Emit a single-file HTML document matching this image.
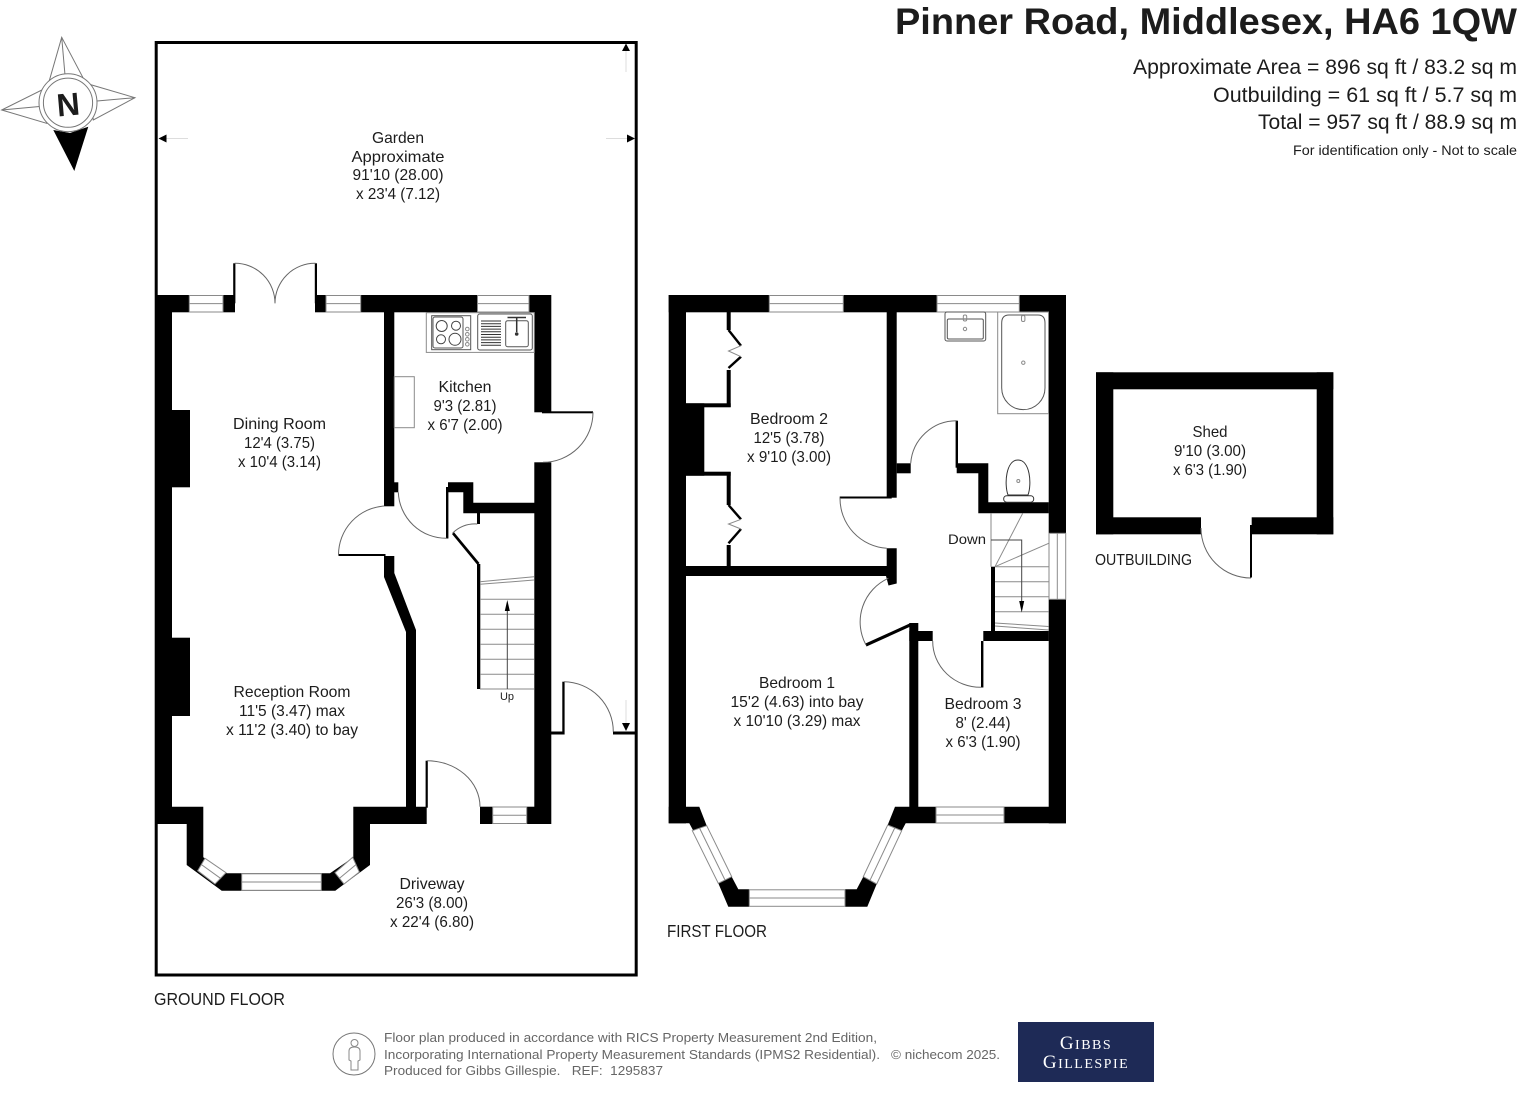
<!DOCTYPE html>
<html><head><meta charset="utf-8"><style>
html,body{margin:0;padding:0;background:#fff}
svg{display:block}
text{font-family:"Liberation Sans",sans-serif;fill:#1c1c1c}
.r{font-size:16px;text-anchor:middle}
.w{fill:#fff;stroke:#8a8a8a;stroke-width:1}
.g{fill:none;stroke:#8a8a8a;stroke-width:1}
.d{fill:none;stroke:#666;stroke-width:1}
.f{font-size:13px;fill:#666}
.l{font-family:"Liberation Serif",serif;fill:#fff}
</style></head><body>
<svg width="1520" height="1096" viewBox="0 0 1520 1096" xmlns="http://www.w3.org/2000/svg">
<rect width="1520" height="1096" fill="#fff"/>

<!-- Titles -->
<text x="1517" y="34" text-anchor="end" font-size="37" font-weight="bold" fill="#000" textLength="622" lengthAdjust="spacingAndGlyphs">Pinner Road, Middlesex, HA6 1QW</text>
<text x="1517" y="74" text-anchor="end" font-size="21" textLength="384" lengthAdjust="spacingAndGlyphs">Approximate Area = 896 sq ft / 83.2 sq m</text>
<text x="1517" y="102" text-anchor="end" font-size="21" textLength="304" lengthAdjust="spacingAndGlyphs">Outbuilding = 61 sq ft / 5.7 sq m</text>
<text x="1517" y="129" text-anchor="end" font-size="21" textLength="259" lengthAdjust="spacingAndGlyphs">Total = 957 sq ft / 88.9 sq m</text>
<text x="1517" y="155" text-anchor="end" font-size="14" textLength="224" lengthAdjust="spacingAndGlyphs">For identification only - Not to scale</text>

<!-- Compass -->
<g fill="#fff" stroke="#777" stroke-width="1">
<polygon points="61.7,37.3 83.3,78.3 49,81.7"/>
<polygon points="135,97.7 93.3,120 88.3,84"/>
<polygon points="1.7,110 43.3,89.3 46.7,123.3"/>
<line x1="61.7" y1="37.3" x2="65" y2="75"/>
<line x1="135" y1="97.7" x2="97" y2="101"/>
<line x1="1.7" y1="110" x2="39.5" y2="106.5"/>
</g>
<polygon points="53.3,130 74.3,171 88.3,126.7 70,133" fill="#000"/>
<circle cx="68" cy="102.7" r="29" fill="#fff" stroke="#777"/>
<circle cx="68" cy="102.7" r="24.6" fill="#fff" stroke="#777"/>
<text x="68" y="115.5" text-anchor="middle" font-size="32" font-weight="bold" fill="#000" transform="rotate(-5 68 103)">N</text>

<!-- GROUND FLOOR -->
<rect x="156.2" y="42.5" width="480" height="932.5" fill="none" stroke="#000" stroke-width="3"/>
<g fill="#000">
<rect x="155" y="295" width="17" height="529"/>
<rect x="155" y="295" width="80" height="17.3"/>
<rect x="315" y="295" width="236" height="17.3"/>
<rect x="172" y="410" width="18" height="77.3"/>
<rect x="172" y="637.7" width="18" height="78.3"/>
<rect x="534.3" y="295" width="17" height="117.3"/>
<rect x="534.3" y="462.3" width="17" height="361.7"/>
<rect x="384" y="312" width="10.3" height="194.3"/>
<rect x="394" y="482.3" width="4.3" height="10"/>
<polygon points="384,556 394.3,556 394.3,573 416,630 416,807 406,807 406,632 384,577"/>
<polygon points="172,806.7 203.3,806.7 203.3,857.3 226.7,873.3 330,873.3 353.3,857.3 353.3,806.7 426.7,806.7 426.7,824 370,824 370,865 335.3,890.7 221.7,890.7 186.7,865 186.7,824 155,824 155,806.7"/>
<rect x="480" y="806.7" width="71" height="17.3"/>
<polygon points="448,482.3 473.3,482.3 473.3,502.7 534.5,502.7 534.5,513.3 463.3,513.3 463.3,492.3 448,492.3"/>
<rect x="477" y="513" width="3" height="11"/>
<rect x="477" y="564" width="3.3" height="125"/>
<rect x="446" y="487" width="2.4" height="51.5"/>
<polygon points="452,534 454,532.3 479.5,563 477.5,565"/>
<rect x="338.5" y="554" width="47" height="2"/>
<rect x="542" y="411.3" width="51" height="2"/>
<rect x="233.2" y="263.3" width="2.2" height="40"/>
<rect x="314.8" y="263.3" width="2.2" height="40"/>
<rect x="551" y="731.5" width="13.3" height="3"/>
<rect x="562.3" y="681.7" width="2.3" height="52.8"/>
<rect x="613" y="731.5" width="23" height="3"/>
<rect x="425.6" y="760.7" width="2.2" height="47"/>
</g>
<!-- ground windows -->
<g>
<rect class="w" x="189.3" y="295.5" width="33.7" height="16.5"/><line class="g" x1="189.3" y1="303.6" x2="223" y2="303.6"/>
<rect class="w" x="326" y="295.5" width="34.7" height="16.5"/><line class="g" x1="326" y1="303.6" x2="360.7" y2="303.6"/>
<rect class="w" x="477.5" y="295.5" width="51.5" height="16.5"/><line class="g" x1="477.5" y1="303.6" x2="529" y2="303.6"/>
<rect class="w" x="492.7" y="807" width="34" height="16.5"/><line class="g" x1="492.7" y1="815.3" x2="526.7" y2="815.3"/>
<rect class="w" x="241.7" y="873.8" width="79.6" height="16.5"/><line class="g" x1="241.7" y1="882" x2="321.3" y2="882"/>
<polygon class="w" points="205,858.3 226,872.7 215,884 197.7,870.7"/><line class="g" x1="201.3" y1="864.5" x2="220.5" y2="878.3"/>
<polygon class="w" points="352.7,857.3 335,872.7 344,884 359.3,872"/><line class="g" x1="356" y1="864.6" x2="339.5" y2="878.3"/>
</g>
<!-- ground door arcs -->
<g class="d">
<path d="M234.7 263.3 A40 40 0 0 1 275 303.3"/>
<path d="M315.5 263.3 A40 40 0 0 0 275 303.3"/>
<path d="M593 412.3 A50 50 0 0 1 543 462.3"/>
<path d="M384.3 506 A49 49 0 0 0 338.5 555"/>
<path d="M398.3 492.3 A48 48 0 0 0 446.7 538.3"/>
<path d="M477.3 524 A33 33 0 0 0 452.7 533"/>
<path d="M564 681.7 A50 50 0 0 1 613.3 731.7"/>
<path d="M427 760.7 A53 46 0 0 1 480 806.7"/>
</g>
<!-- stairs -->
<g class="g">
<line x1="480" y1="581.7" x2="534" y2="576.7"/>
<line x1="480" y1="584.3" x2="534" y2="580"/>
<line x1="480" y1="599.3" x2="534" y2="599.3"/>
<line x1="480" y1="614.3" x2="534" y2="614.3"/>
<line x1="480" y1="629.3" x2="534" y2="629.3"/>
<line x1="480" y1="644.3" x2="534" y2="644.3"/>
<line x1="480" y1="659.3" x2="534" y2="659.3"/>
<line x1="480" y1="674.3" x2="534" y2="674.3"/>
<line x1="480" y1="689" x2="534" y2="689"/>
<line x1="507.3" y1="689" x2="507.3" y2="606" stroke="#444"/>
</g>
<polygon points="507.3,600 504.8,611 509.8,611" fill="#000"/>
<text x="507" y="700" text-anchor="middle" font-size="11">Up</text>
<!-- kitchen fittings -->
<g class="g">
<rect x="426.3" y="312.7" width="108" height="39.7"/>
<rect x="394.3" y="376.7" width="20" height="51"/>
<rect x="431.7" y="315.7" width="39" height="34" stroke="#555"/>
<rect x="433" y="317" width="30" height="31" stroke="#555" rx="2"/>
<circle cx="441.7" cy="326" r="5.5" stroke="#444"/><circle cx="456" cy="325.7" r="4.5" stroke="#444"/>
<circle cx="441" cy="339.3" r="4.5" stroke="#444"/><circle cx="455" cy="339.3" r="6" stroke="#444"/>
<circle cx="467.3" cy="329" r="1.8"/><circle cx="467.3" cy="334.3" r="1.8"/><circle cx="467.3" cy="339.3" r="1.8"/><circle cx="467.3" cy="344.3" r="1.8"/>
<rect x="477.7" y="314" width="54.6" height="36" rx="2" stroke="#555"/>
<rect x="505.7" y="320.7" width="22.6" height="26" rx="2" stroke="#555"/>
</g>
<g stroke="#333" stroke-width="1">
<line x1="481" x2="501" y1="321" y2="321"/><line x1="481" x2="501" y1="323.7" y2="323.7"/><line x1="481" x2="501" y1="326.4" y2="326.4"/><line x1="481" x2="501" y1="329.1" y2="329.1"/><line x1="481" x2="501" y1="331.8" y2="331.8"/><line x1="481" x2="501" y1="334.5" y2="334.5"/><line x1="481" x2="501" y1="337.2" y2="337.2"/><line x1="481" x2="501" y1="339.9" y2="339.9"/><line x1="481" x2="501" y1="342.6" y2="342.6"/><line x1="481" x2="501" y1="345.3" y2="345.3"/>
<line x1="516.7" y1="317" x2="516.7" y2="332" stroke-width="1.5"/>
<line x1="507.5" y1="317.5" x2="526" y2="317.5" stroke-width="1.5"/>
<circle cx="516.7" cy="334" r="1.3" fill="#333"/>
</g>
<!-- garden dims -->
<g stroke="#ddd" stroke-width="1"><line x1="626" y1="50" x2="626" y2="72"/><line x1="166" y1="138.5" x2="188" y2="138.5"/><line x1="606" y1="138.5" x2="627" y2="138.5"/><line x1="626" y1="700" x2="626" y2="723"/></g>
<g fill="#000">
<polygon points="626,43.5 622,51 630,51"/>
<polygon points="158.5,138.5 166.5,134.5 166.5,142.5"/>
<polygon points="635,138.5 627,134.5 627,142.5"/>
<polygon points="626,731 622,723 630,723"/>
</g>
<!-- ground labels -->
<text class="r" x="398" y="143" textLength="52" lengthAdjust="spacingAndGlyphs">Garden</text>
<text class="r" x="398" y="162" textLength="93" lengthAdjust="spacingAndGlyphs">Approximate</text>
<text class="r" x="398" y="180" textLength="91" lengthAdjust="spacingAndGlyphs">91'10 (28.00)</text>
<text class="r" x="398" y="199" textLength="84" lengthAdjust="spacingAndGlyphs">x 23'4 (7.12)</text>
<text class="r" x="279.5" y="429" textLength="93" lengthAdjust="spacingAndGlyphs">Dining Room</text>
<text class="r" x="279.5" y="448" textLength="71" lengthAdjust="spacingAndGlyphs">12'4 (3.75)</text>
<text class="r" x="279.5" y="467" textLength="83" lengthAdjust="spacingAndGlyphs">x 10'4 (3.14)</text>
<text class="r" x="465" y="392" textLength="53" lengthAdjust="spacingAndGlyphs">Kitchen</text>
<text class="r" x="465" y="411" textLength="63" lengthAdjust="spacingAndGlyphs">9'3 (2.81)</text>
<text class="r" x="465" y="430" textLength="75" lengthAdjust="spacingAndGlyphs">x 6'7 (2.00)</text>
<text class="r" x="292" y="697" textLength="117" lengthAdjust="spacingAndGlyphs">Reception Room</text>
<text class="r" x="292" y="716" textLength="106" lengthAdjust="spacingAndGlyphs">11'5 (3.47) max</text>
<text class="r" x="292" y="735" textLength="132" lengthAdjust="spacingAndGlyphs">x 11'2 (3.40) to bay</text>
<text class="r" x="432" y="889" textLength="65" lengthAdjust="spacingAndGlyphs">Driveway</text>
<text class="r" x="432" y="908" textLength="72" lengthAdjust="spacingAndGlyphs">26'3 (8.00)</text>
<text class="r" x="432" y="927" textLength="84" lengthAdjust="spacingAndGlyphs">x 22'4 (6.80)</text>
<text x="154" y="1005" font-size="17.5" textLength="131" lengthAdjust="spacingAndGlyphs">GROUND FLOOR</text>

<!-- FIRST FLOOR -->
<g fill="#000">
<rect x="668.7" y="295" width="17.3" height="528.3"/>
<rect x="668.7" y="295" width="397.3" height="17.3"/>
<rect x="1048.7" y="295" width="17.3" height="238.3"/>
<rect x="1048.7" y="599.3" width="17.3" height="224"/>
<rect x="886.7" y="312" width="10" height="185.7"/>
<rect x="839.7" y="496.5" width="52" height="2"/>
<rect x="896.7" y="463.3" width="14" height="10"/>
<polygon points="886.7,548.3 896.7,548.3 896.7,576 896.7,583.5 888.5,585.5 886,576 686,576 686,566 886.7,566"/>
<rect x="686" y="403.3" width="18.3" height="72.4"/>
<rect x="686" y="403.3" width="44.7" height="4"/>
<rect x="686" y="471.7" width="44.7" height="4"/>
<rect x="726.7" y="312" width="4" height="18"/>
<rect x="726.7" y="370" width="4" height="37"/>
<rect x="726.7" y="472" width="4" height="33"/>
<rect x="726.7" y="545" width="4" height="21"/>
<rect x="955.6" y="420.7" width="2.4" height="47"/>
<polygon points="956.7,463.3 988.3,463.3 988.3,502.3 1048.8,502.3 1048.8,513.3 978.3,513.3 978.3,473.3 956.7,473.3"/>
<rect x="991" y="566.7" width="4" height="64.3"/>
<rect x="983.3" y="631" width="65.5" height="10"/>
<rect x="909.3" y="631" width="23.4" height="10"/>
<rect x="909.3" y="623" width="9" height="184"/>
<polygon points="865.5,643.5 909.5,623.5 910.5,626.5 866.5,646.5"/>
<rect x="981" y="641" width="2.4" height="46.5"/>
<polygon points="668.7,806.7 699.3,806.7 706.7,825.7 693.3,830.7 689.3,823.3 668.7,823.3"/>
<polygon points="718.3,883.3 731.7,876.7 738.3,889.3 749.3,889.3 749.3,906.7 728.3,906.7"/>
<polygon points="845,889.3 856.7,889.3 863.3,876.7 876.7,884 867.3,906.7 845,906.7"/>
<polygon points="887.7,825 895,806.7 1066,806.7 1066,823.3 905.7,823.3 901.7,830.7"/>
</g>
<g fill="none" stroke="#000" stroke-width="2.4">
<polyline points="728.5,330 741,345.7"/>
<polyline points="741,356.7 728.5,368"/>
<polyline points="728.5,505 741,519.3"/>
<polyline points="741,529 728.5,543.3"/>
</g>
<g class="g" stroke="#444">
<polyline points="741,345.7 728.5,351 741,356.7"/>
<polyline points="741,519.3 728.5,524 741,529"/>
</g>
<!-- first windows -->
<rect class="w" x="769.3" y="295.5" width="74" height="16.5"/><line class="g" x1="769.3" y1="303.6" x2="843.3" y2="303.6"/>
<rect class="w" x="937" y="295.5" width="82.3" height="16.5"/><line class="g" x1="937" y1="303.6" x2="1019.3" y2="303.6"/>
<rect class="w" x="936" y="807" width="68" height="16"/><line class="g" x1="936" y1="815" x2="1004" y2="815"/>
<rect class="w" x="749.3" y="889.8" width="95.7" height="16.5"/><line class="g" x1="749.3" y1="898" x2="845" y2="898"/>
<polygon class="w" points="692.3,830.7 706.7,825.7 731.7,876.7 718.3,883.3"/><line class="g" x1="699.5" y1="828" x2="725" y2="880"/>
<polygon class="w" points="887.7,825 901.7,830.7 876.7,884 863.3,876.7"/><line class="g" x1="894.7" y1="828" x2="870" y2="880.3"/>
<rect class="w" x="1049" y="533.3" width="16.7" height="66"/><line class="g" x1="1057.3" y1="533.3" x2="1057.3" y2="599.3"/>
<!-- first arcs -->
<g class="d">
<path d="M840 497.7 A50 50 0 0 0 886.7 548.3"/>
<path d="M956.7 420.7 A46 46 0 0 0 910.7 463.3"/>
<path d="M866 645 A48 48 0 0 1 888.3 578.3"/>
<path d="M932.7 641 A48 46 0 0 0 981 687.3"/>
</g>
<!-- first stairs -->
<g class="g">
<line x1="991" y1="513.3" x2="991" y2="566.7"/>
<line x1="995" y1="566.7" x2="1022.7" y2="513.3"/>
<line x1="995" y1="566.7" x2="1048.7" y2="543.3"/>
<line x1="995" y1="566.7" x2="1048.7" y2="566.7"/>
<line x1="995" y1="581.7" x2="1048.7" y2="581.7"/>
<line x1="995" y1="596.7" x2="1048.7" y2="596.7"/>
<line x1="995" y1="611.7" x2="1048.7" y2="611.7"/>
<line x1="995" y1="623" x2="1048.7" y2="626.5"/>
<line x1="995" y1="626" x2="1048.7" y2="630"/>
<polyline points="991,540 1021.7,540 1021.7,604" stroke="#444"/>
</g>
<polygon points="1021.7,612.5 1019.2,601 1024.2,601" fill="#000"/>
<text x="967" y="544" text-anchor="middle" font-size="14" textLength="38" lengthAdjust="spacingAndGlyphs">Down</text>
<!-- bathroom fittings -->
<g class="g">
<rect x="997.7" y="312" width="50.8" height="101.7"/>
<path d="M1009 315 H1038 Q1045 315 1045 323 V388 A21.6 21.6 0 0 1 1001.7 388 V323 Q1001.7 315 1009 315 Z" stroke="#555"/>
<circle cx="1023.3" cy="362.7" r="1.7"/>
<rect x="945" y="312" width="40.7" height="29" rx="2" stroke="#555"/>
<rect x="947.3" y="319" width="36" height="20" rx="1.5" stroke="#555"/>
<circle cx="965" cy="329" r="1.7"/>
<rect x="963.3" y="315" width="3.4" height="6" rx="1.5"/>
<rect x="1021.5" y="315.5" width="3.4" height="6" rx="1.5"/>
<path d="M1008 495 C1004 484 1006 460 1018 460 C1030 460 1032 484 1028 495 Z" stroke="#333"/>
<rect x="1003.7" y="495.7" width="30" height="6.5" rx="3" stroke="#333"/>
<circle cx="1018.3" cy="481" r="1.5"/>
</g>
<!-- first labels -->
<text class="r" x="789" y="424" textLength="78" lengthAdjust="spacingAndGlyphs">Bedroom 2</text>
<text class="r" x="789" y="443" textLength="71" lengthAdjust="spacingAndGlyphs">12'5 (3.78)</text>
<text class="r" x="789" y="462" textLength="84" lengthAdjust="spacingAndGlyphs">x 9'10 (3.00)</text>
<text class="r" x="797" y="688" textLength="76" lengthAdjust="spacingAndGlyphs">Bedroom 1</text>
<text class="r" x="797" y="707" textLength="133" lengthAdjust="spacingAndGlyphs">15'2 (4.63) into bay</text>
<text class="r" x="797" y="726" textLength="127" lengthAdjust="spacingAndGlyphs">x 10'10 (3.29) max</text>
<text class="r" x="983" y="709" textLength="77" lengthAdjust="spacingAndGlyphs">Bedroom 3</text>
<text class="r" x="983" y="728" textLength="55" lengthAdjust="spacingAndGlyphs">8' (2.44)</text>
<text class="r" x="983" y="747" textLength="75" lengthAdjust="spacingAndGlyphs">x 6'3 (1.90)</text>
<text x="667" y="937" font-size="17.5" textLength="100" lengthAdjust="spacingAndGlyphs">FIRST FLOOR</text>

<!-- SHED -->
<g fill="#000">
<rect x="1096" y="372.3" width="237.3" height="17"/>
<rect x="1096" y="372.3" width="17.3" height="162"/>
<rect x="1316.7" y="372.3" width="16.6" height="162"/>
<rect x="1096" y="517.3" width="105" height="17"/>
<rect x="1251.7" y="517.3" width="81.6" height="17"/>
<rect x="1250" y="525" width="2" height="52.5"/>
</g>
<path class="d" d="M1201 528 A50 50 0 0 0 1251 578"/>
<text class="r" x="1210" y="437" textLength="35" lengthAdjust="spacingAndGlyphs">Shed</text>
<text class="r" x="1210" y="456" textLength="72" lengthAdjust="spacingAndGlyphs">9'10 (3.00)</text>
<text class="r" x="1210" y="475" textLength="74" lengthAdjust="spacingAndGlyphs">x 6'3 (1.90)</text>
<text x="1095" y="565" font-size="15.5" textLength="97" lengthAdjust="spacingAndGlyphs">OUTBUILDING</text>

<!-- Footer -->
<circle cx="354" cy="1054" r="21" fill="none" stroke="#777"/>
<circle cx="354.5" cy="1043" r="3.5" fill="none" stroke="#888"/>
<path d="M349 1051 Q349 1047 354.5 1047 Q360 1047 360 1051 V1060 L358 1061 V1070 H351 V1061 L349 1060 Z" fill="none" stroke="#888"/>
<text class="f" x="384" y="1042" textLength="493" lengthAdjust="spacingAndGlyphs">Floor plan produced in accordance with RICS Property Measurement 2nd Edition,</text>
<text class="f" x="384" y="1059" textLength="496" lengthAdjust="spacingAndGlyphs">Incorporating International Property Measurement Standards (IPMS2 Residential).</text>
<text class="f" x="891" y="1059" textLength="109" lengthAdjust="spacingAndGlyphs">© nichecom 2025.</text>
<text class="f" x="384" y="1075" textLength="279" lengthAdjust="spacingAndGlyphs">Produced for Gibbs Gillespie.&#160;&#160;&#160;REF:&#160;&#160;1295837</text>
<rect x="1018" y="1022" width="136" height="60" fill="#1e2a56"/>
<text class="l" x="1086" y="1049" text-anchor="middle" font-size="14" letter-spacing="1.5"><tspan font-size="19">G</tspan>IBBS</text>
<text class="l" x="1086" y="1068" text-anchor="middle" font-size="14" letter-spacing="1.5"><tspan font-size="19">G</tspan>ILLESPIE</text>
</svg>
</body></html>
